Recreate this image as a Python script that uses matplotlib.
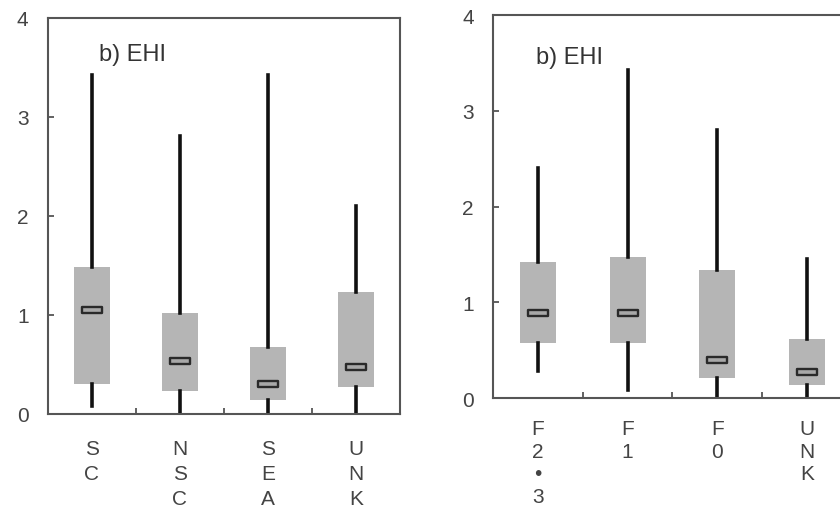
import matplotlib
matplotlib.use("Agg")
import matplotlib.pyplot as plt
from matplotlib.path import Path

plt.rcParams['font.family'] = ['Liberation Sans', 'DejaVu Sans']

# Left panel data
cats_left = ["SC", "NSC", "SEA", "UNK"]
left_whislo = [0.08, 0.0, 0.0, 0.0]
left_q1 = [0.30, 0.23, 0.14, 0.27]
left_med = [1.05, 0.54, 0.30, 0.47]
left_q3 = [1.48, 1.02, 0.68, 1.23]
left_whishi = [3.42, 2.81, 3.42, 2.10]

# Right panel data
cats_right = ["F2•3", "F1", "F0", "UNK"]
right_whislo = [0.28, 0.08, 0.0, 0.0]
right_q1 = [0.57, 0.57, 0.21, 0.14]
right_med = [0.89, 0.89, 0.40, 0.27]
right_q3 = [1.42, 1.47, 1.34, 0.62]
right_whishi = [2.40, 3.43, 2.80, 1.45]

panel_title = "b) EHI"
yticks = [0, 1, 2, 3, 4]

fig = plt.figure(figsize=(8.4, 5.1), dpi=100)
ax1 = fig.add_axes([0.0571, 0.1863, 0.419, 0.7765])
ax2 = fig.add_axes([0.587, 0.2176, 0.427, 0.751])

med_marker = Path([(-1, -0.28), (1, -0.28), (1, 0.28), (-1, 0.28), (-1, -0.28)],
                  [Path.MOVETO, Path.LINETO, Path.LINETO, Path.LINETO, Path.CLOSEPOLY])

def draw(ax, cats, wlo, q1, med, q3, whi, title, title_x, title_y, lsp, xpad):
    stats = []
    for i in range(len(cats)):
        stats.append(dict(whislo=wlo[i], q1=q1[i], med=med[i], q3=q3[i], whishi=whi[i], label=cats[i]))
    pos = list(range(1, len(cats) + 1))
    ax.bxp(stats, positions=pos, widths=0.4, patch_artist=True, showcaps=False,
           showfliers=False,
           boxprops=dict(facecolor='#b5b5b5', edgecolor='none', linewidth=0),
           whiskerprops=dict(color='#111111', linewidth=2.6),
           medianprops=dict(linewidth=0))
    ax.plot(pos, med, linestyle='none', marker=med_marker, markersize=15,
            markerfacecolor='#a8a8a8', markeredgecolor='#2a2a2a', markeredgewidth=1.7, zorder=5)
    ax.set_xlim(0.5, len(cats) + 0.5)
    ax.set_ylim(0, 4)
    ax.set_yticks(yticks)
    ax.set_yticklabels([str(t) for t in yticks])
    ax.set_xticks(pos)
    ax.set_xticklabels(['\n'.join(list(c)) for c in cats], linespacing=lsp)
    ax.set_xticks([p + 0.5 for p in pos[:-1]], minor=True)
    ax.tick_params(axis='x', which='major', length=0, pad=xpad, labelsize=15, labelcolor='#444444')
    ax.tick_params(axis='x', which='minor', direction='in', length=4, width=1.3, color='#555555')
    ax.tick_params(axis='y', direction='in', length=4, width=1.3, color='#555555',
                   pad=14, labelsize=15, labelcolor='#444444')
    for s in ax.spines.values():
        s.set_color('#555555')
        s.set_linewidth(1.5)
    ax.text(title_x, title_y, title, fontsize=17, color='#333333', ha='left', va='center')

draw(ax1, cats_left, left_whislo, left_q1, left_med, left_q3, left_whishi, panel_title, 1.08, 3.64, 1.4, 18)
draw(ax2, cats_right, right_whislo, right_q1, right_med, right_q3, right_whishi, panel_title, 0.98, 3.56, 1.25, 15)

fig.savefig("out.png", dpi=100)
